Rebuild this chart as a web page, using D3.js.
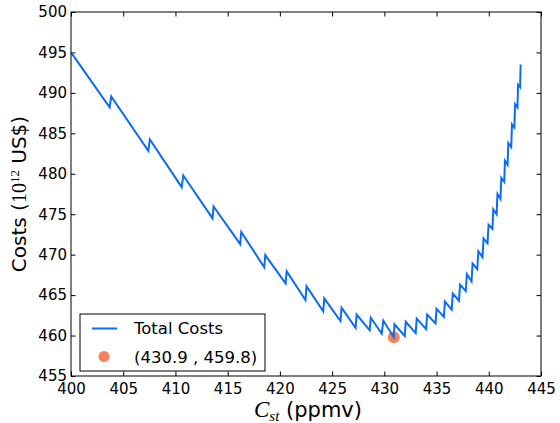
<!DOCTYPE html>
<html>
<head>
<meta charset="utf-8">
<script src="https://cdnjs.cloudflare.com/ajax/libs/d3/7.8.5/d3.min.js"></script>
<style>
  body { margin: 0; background: #fff; }
  #chart { width: 560px; height: 423px; }
  text { font-family: "DejaVu Sans", sans-serif; }
</style>
</head>
<body>
<div id="chart"></div>
<script>
// total costs curve (vertices)
var costX = [400, 403.7, 403.85, 407.4, 407.55, 410.6, 410.75, 413.55, 413.65, 416.2, 416.3,
    418.5, 418.6, 420.55, 420.65, 422.45, 422.55, 424.15, 424.25, 425.8, 425.9,
    427.25, 427.35, 428.6, 428.7, 429.75, 429.9, 430.9, 430.97, 431.95, 432.05,
    433.0, 433.1, 434.0, 434.1, 434.9, 435.0, 435.7, 435.8, 436.45, 436.55,
    437.15, 437.25, 437.8, 437.9, 438.35, 438.45, 438.9, 439.0, 439.4, 439.5,
    439.88, 439.98, 440.35, 440.43, 440.75, 440.83, 441.12, 441.2, 441.48, 441.55,
    441.8, 441.87, 442.15, 442.22, 442.45, 442.52, 442.75, 442.8, 443.0, 443.05];
var costY = [495.0, 488.2, 489.55, 482.85, 484.25, 478.35, 479.8, 474.5, 475.95, 471.3, 472.8,
    468.45, 469.95, 466.45, 467.95, 464.4, 466.1, 463.0, 464.6, 461.8, 463.45,
    460.95, 462.6, 460.65, 462.2, 460.25, 461.85, 459.8, 461.4, 459.95, 461.7,
    460.3, 462.1, 460.8, 462.6, 461.5, 463.3, 462.3, 464.2, 463.2, 465.2,
    464.3, 466.3, 465.5, 467.6, 466.7, 468.9, 468.2, 470.4, 469.7, 472.0,
    471.4, 473.7, 473.2, 475.6, 475.0, 477.5, 476.9, 479.5, 479.0, 481.6,
    481.1, 483.8, 483.3, 486.1, 485.7, 488.6, 488.2, 491.0, 490.7, 493.5];

// minimum point
var minX = [430.9];
var minY = [459.8];

var xTicks = [400, 405, 410, 415, 420, 425, 430, 435, 440, 445];
var yTicks = [455, 460, 465, 470, 475, 480, 485, 490, 495, 500];

var lineColor = '#0b6cf3';
var dotColor = '#f3845a';

var width = 560, height = 423;
var margin = { top: 12, right: 19, bottom: 47, left: 71 };
var innerW = width - margin.left - margin.right;
var innerH = height - margin.top - margin.bottom;

var svg = d3.select('#chart')
    .append('svg')
    .attr('width', width)
    .attr('height', height)
    .append('g')
    .attr('transform', 'translate(' + margin.left + ',' + margin.top + ')');

var x_scale = d3.scaleLinear().domain([400, 445]).range([0, innerW]);
var y_scale = d3.scaleLinear().domain([455, 500]).range([innerH, 0]);

var tick = 4.5;

function styleAxis(g) {
    g.select('.domain').remove();
    g.selectAll('.tick line').attr('stroke', '#000').attr('stroke-width', 1);
    g.selectAll('.tick text').attr('fill', '#000').style('font-size', '15px');
}

svg.append('g')
    .attr('transform', 'translate(0,' + innerH + ')')
    .call(d3.axisBottom(x_scale).tickValues(xTicks).tickFormat(d3.format('d'))
        .tickSizeInner(-tick).tickSizeOuter(0).tickPadding(7))
    .call(styleAxis);

svg.append('g')
    .call(d3.axisTop(x_scale).tickValues(xTicks).tickFormat('')
        .tickSizeInner(-tick).tickSizeOuter(0))
    .call(styleAxis);

svg.append('g')
    .call(d3.axisLeft(y_scale).tickValues(yTicks).tickFormat(d3.format('d'))
        .tickSizeInner(-tick).tickSizeOuter(0).tickPadding(4))
    .call(styleAxis);

svg.append('g')
    .attr('transform', 'translate(' + innerW + ',0)')
    .call(d3.axisRight(y_scale).tickValues(yTicks).tickFormat('')
        .tickSizeInner(-tick).tickSizeOuter(0))
    .call(styleAxis);

// minimum marker under the line
svg.selectAll('.minpt')
    .data(minX)
    .enter()
    .append('circle')
    .attr('class', 'minpt')
    .attr('cx', function (d) { return x_scale(d); })
    .attr('cy', function (d, i) { return y_scale(minY[i]); })
    .attr('r', 6)
    .attr('fill', dotColor);

var pts = costX.map(function (d, i) { return [d, costY[i]]; });

var line = d3.line()
    .x(function (d) { return x_scale(d[0]); })
    .y(function (d) { return y_scale(d[1]); });

svg.append('path')
    .datum(pts)
    .attr('d', line)
    .attr('fill', 'none')
    .attr('stroke', lineColor)
    .attr('stroke-width', 2)
    .attr('stroke-linejoin', 'miter');

// frame
svg.append('rect')
    .attr('x', 0).attr('y', 0)
    .attr('width', innerW).attr('height', innerH)
    .attr('fill', 'none')
    .attr('stroke', '#000')
    .attr('stroke-width', 1);

// legend
var legend = svg.append('g')
    .attr('transform', 'translate(' + (80 - margin.left) + ',' + (314 - margin.top) + ')');

legend.append('rect')
    .attr('x', 0).attr('y', 0)
    .attr('width', 185).attr('height', 57)
    .attr('fill', '#fff')
    .attr('stroke', '#000')
    .attr('stroke-width', 1);

legend.append('line')
    .attr('x1', 12).attr('x2', 37)
    .attr('y1', 14.5).attr('y2', 14.5)
    .attr('stroke', lineColor)
    .attr('stroke-width', 2);

legend.append('text')
    .attr('x', 54).attr('y', 20)
    .style('font-size', '16.5px')
    .text('Total Costs');

legend.append('circle')
    .attr('cx', 24).attr('cy', 42.5)
    .attr('r', 5.5)
    .attr('fill', dotColor);

legend.append('text')
    .attr('x', 54).attr('y', 48.5)
    .style('font-size', '16.5px')
    .text('(' + minX[0].toFixed(1) + ' , ' + minY[0].toFixed(1) + ')');

// axis labels
var xl = svg.append('text')
    .attr('x', innerW / 2 + 2)
    .attr('y', 405)
    .attr('text-anchor', 'middle')
    .style('font-size', '21px');
xl.append('tspan')
    .style('font-family', '"Liberation Serif", serif')
    .style('font-style', 'italic')
    .style('font-size', '23px')
    .text('C');
xl.append('tspan')
    .attr('dy', 4)
    .style('font-family', '"Liberation Serif", serif')
    .style('font-style', 'italic')
    .style('font-size', '15px')
    .text('st');
xl.append('tspan')
    .attr('dy', -4)
    .text(' (ppmv)');

var yl = svg.append('text')
    .attr('transform', 'translate(' + (-45) + ',' + (innerH / 2) + ') rotate(-90)')
    .attr('text-anchor', 'middle')
    .style('font-size', '20px');
yl.append('tspan').text('Costs (');
yl.append('tspan')
    .style('font-family', '"Liberation Serif", serif')
    .style('font-size', '20px')
    .text('10');
yl.append('tspan')
    .attr('dy', -7)
    .style('font-family', '"Liberation Serif", serif')
    .style('font-size', '13px')
    .text('12');
yl.append('tspan')
    .attr('dy', 7)
    .text(' US$)');
</script>
</body>
</html>
